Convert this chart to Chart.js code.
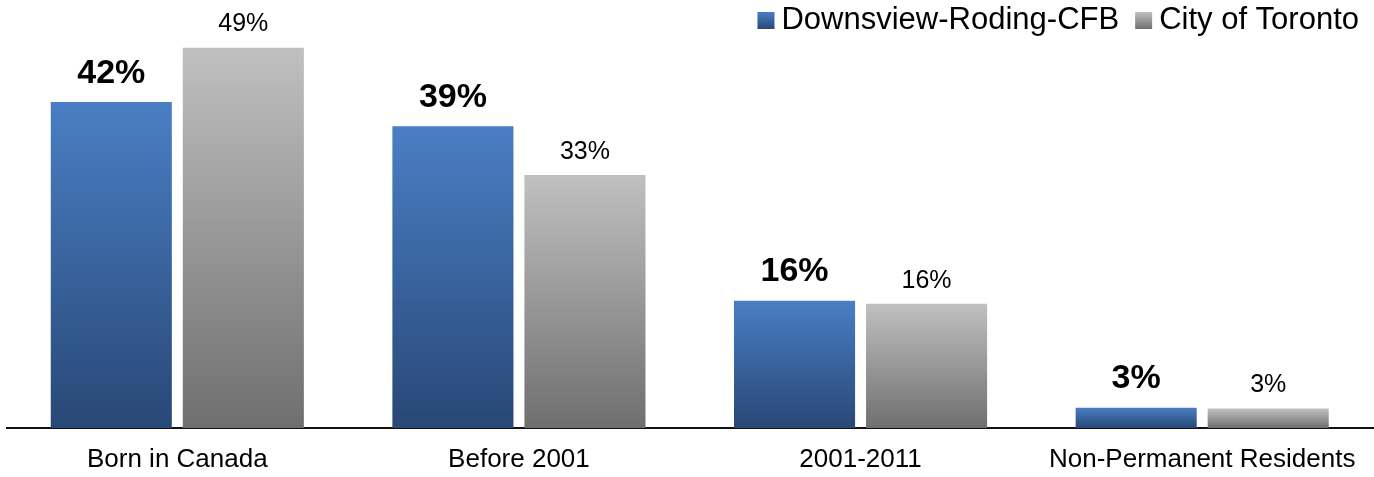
<!DOCTYPE html>
<html>
<head>
<meta charset="utf-8">
<script src="https://cdn.jsdelivr.net/npm/chart.js@4.4.1/dist/chart.umd.min.js"></script>
<style>
html, body { margin: 0; padding: 0; background: #fff; }
#wrap { width: 1374px; height: 477px; position: relative; }
</style>
</head>
<body>
<div id="wrap"><canvas id="chart"></canvas></div>
<script>
const categories = ['Born in Canada', 'Before 2001', '2001-2011', 'Non-Permanent Residents'];
const seriesNames = ['Downsview-Roding-CFB', 'City of Toronto'];
const downsview = [42.0, 38.9, 16.4, 2.6];
const toronto = [49.0, 32.6, 16.0, 2.5];

const FONT = '"Liberation Sans", Arial, sans-serif';
const blueStops = ['#4a7ec4', '#284876'];
const greyStops = ['#c0c0c0', '#6f6f6f'];

function vertGrad(ctx, top, bottom, stops) {
  const g = ctx.createLinearGradient(0, top, 0, bottom);
  g.addColorStop(0, stops[0]);
  g.addColorStop(1, stops[1]);
  return g;
}

// every bar gets its own top-to-bottom gradient, like the slide
function barFill(stops) {
  return c => {
    const ch = c.chart;
    const ys = ch.scales.y;
    if (!ch.chartArea || !ys || c.raw == null) return stops[0];
    return vertGrad(ch.ctx, ys.getPixelForValue(c.raw), ys.getPixelForValue(0), stops);
  };
}

const valueLabels = {
  id: 'valueLabels',
  afterDatasetsDraw(chart) {
    const ctx = chart.ctx;
    ctx.save();
    ctx.fillStyle = '#000';
    ctx.textAlign = 'center';
    ctx.textBaseline = 'alphabetic';
    chart.data.datasets.forEach((ds, i) => {
      const bold = i === 0;
      ctx.font = (bold ? 'bold 34px ' : '25px ') + FONT;
      chart.getDatasetMeta(i).data.forEach((bar, j) => {
        ctx.fillText(Math.round(ds.data[j]) + '%', bar.x, bar.y - (bold ? 19.5 : 16.3));
      });
    });
    ctx.restore();
  }
};

// legend top right, drawn by hand so the boxes get the gradient too
const topLegend = {
  id: 'topLegend',
  afterDraw(chart) {
    const ctx = chart.ctx;
    const ds = chart.data.datasets;
    ctx.save();
    ctx.font = '31px ' + FONT;
    ctx.textBaseline = 'alphabetic';
    let x = 1359;
    for (let i = ds.length - 1; i >= 0; i--) {
      x -= ctx.measureText(ds[i].label).width;
      ctx.fillStyle = '#000';
      ctx.fillText(ds[i].label, x, 29);
      x -= 7 + 17;
      ctx.fillStyle = vertGrad(ctx, 12, 29, ds[i].stops);
      ctx.fillRect(x, 12, 17, 17);
      x -= 16;
    }
    ctx.restore();
  }
};

new Chart(document.getElementById('chart'), {
  type: 'bar',
  data: {
    labels: categories,
    datasets: [
      { label: seriesNames[0], data: downsview, stops: blueStops, backgroundColor: barFill(blueStops) },
      { label: seriesNames[1], data: toronto, stops: greyStops, backgroundColor: barFill(greyStops) }
    ]
  },
  options: {
    responsive: true,
    maintainAspectRatio: false,
    animation: false,
    layout: { padding: { top: 9, left: 6.5, right: 1, bottom: 0 } },
    datasets: { bar: { categoryPercentage: 0.773, barPercentage: 0.917 } },
    plugins: { legend: { display: false }, tooltip: { enabled: false } },
    scales: {
      x: {
        grid: { display: false, drawTicks: false },
        border: { display: true, color: '#111', width: 2 },
        ticks: { color: '#000', font: { family: FONT, size: 26 }, padding: 16, maxRotation: 0, autoSkip: false },
        afterFit(s) { s.height = 49; }
      },
      y: { display: false, min: 0, max: 54 }
    }
  },
  plugins: [valueLabels, topLegend]
});
</script>
</body>
</html>
